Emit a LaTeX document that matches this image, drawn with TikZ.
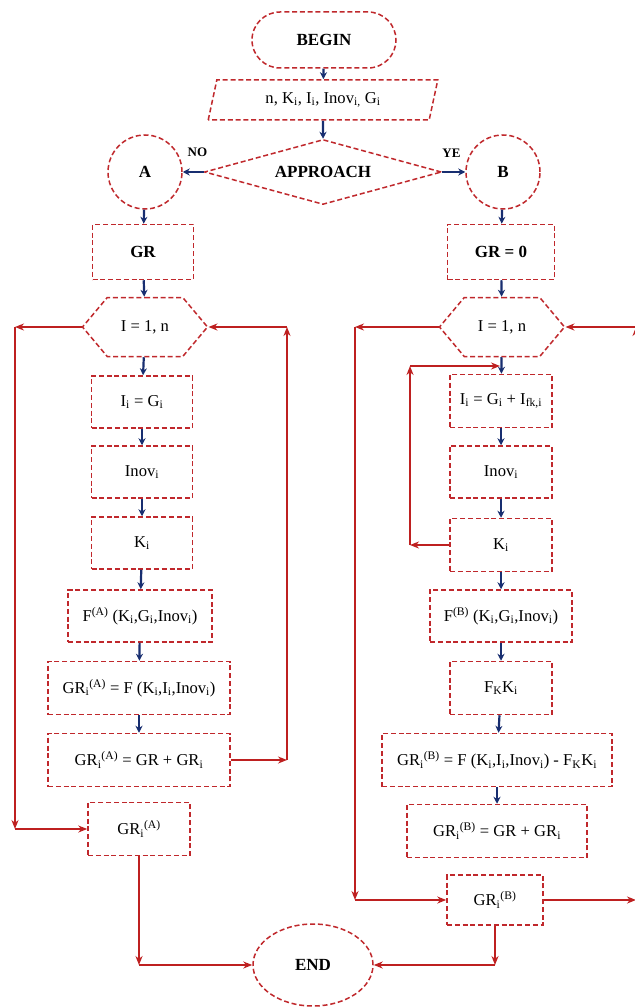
\documentclass[tikz,border=0pt]{standalone}
\usepackage{fontspec}
\setmainfont{Liberation Serif}
\usetikzlibrary{positioning,arrows.meta,shapes.geometric,shapes.misc,shapes.symbols}
\definecolor{boxred}{RGB}{192,40,44}
\definecolor{linkred}{RGB}{190,32,32}
\definecolor{navy}{RGB}{24,46,112}
\newcommand{\lo}[1]{\textsubscript{#1}}
\newcommand{\hi}[1]{\textsuperscript{#1}}
\tikzset{
  base/.style={draw=boxred, line width=1.5pt, dash pattern=on 5pt off 2.8pt,
    fill=white, font=\fontsize{16.6}{19}\selectfont, align=center, inner sep=2pt},
  proc/.style={base, rectangle, minimum width=101pt, minimum height=52pt},
  bigtext/.style={font=\fontsize{17}{20}\selectfont\bfseries},
  term/.style={base, rounded rectangle, minimum width=148pt, minimum height=56pt, bigtext},
  io/.style={base, trapezium, trapezium left angle=76, trapezium right angle=104,
    trapezium stretches=true, minimum width=230pt, minimum height=40pt},
  test/.style={base, diamond, aspect=3.65, minimum width=237pt, minimum height=65pt,
    inner sep=0pt, bigtext},
  conn/.style={base, circle, minimum size=74pt, bigtext},
  loophex/.style={base, signal, signal to=west and east, signal pointer angle=100,
    minimum width=125pt, minimum height=59pt},
  stop/.style={base, ellipse, minimum width=120pt, minimum height=82pt, bigtext},
  flow/.style={-{Stealth[length=7pt,width=7pt]}, navy, line width=2.2pt},
  back/.style={-{Stealth[length=9pt,width=7pt]}, linkred, line width=1.5pt},
  tag/.style={text=black, font=\fontsize{13}{15}\selectfont\bfseries},
}

\begin{document}
\begin{tikzpicture}[x=1pt, y=-1pt]
  \path[use as bounding box, fill=white] (0,0) rectangle (634,1008);
  % start and choice
  \node[term] (begin) at (324,40) {BEGIN};
  \node[io] (input) at (323,100) {n, K\lo{i}, I\lo{i}, Inov\lo{i,} G\lo{i}};
  \node[test] (appr) at (323,172) {APPROACH};
  \node[conn] (a) at (145,172) {A};
  \node[conn] (b) at (503,172) {B};
  \node[proc, minimum height=55pt, bigtext] (grA) at (143,252) {GR};
  \node[proc, minimum width=107pt, minimum height=55pt, bigtext] (grB) at (501,252) {GR = 0};
  \node[loophex] (hexA) at (145,327) {I = 1, n};
  \node[loophex] (hexB) at (502,327) {I = 1, n};
  % branch A
  \node[proc] (iA) at (142,402) {I\lo{i} = G\lo{i}};
  \node[proc] (inovA) at (142,472) {Inov\lo{i}};
  \node[proc] (kA) at (142,543) {K\lo{i}};
  \node[proc, minimum width=144pt] (fA) at (140,616) {F\hi{(A)} (K\lo{i},G\lo{i},Inov\lo{i})};
  \node[proc, minimum width=182pt, minimum height=53pt] (gA1) at (139,688) {GR\lo{i}\hi{(A)} = F (K\lo{i},I\lo{i},Inov\lo{i})};
  \node[proc, minimum width=182pt, minimum height=53pt] (gA2) at (139,760) {GR\lo{i}\hi{(A)} = GR + GR\lo{i}};
  \node[proc, minimum width=102pt, minimum height=53pt] (gA3) at (139,829) {GR\lo{i}\hi{(A)}};
  % branch B
  \node[proc, minimum width=102pt, minimum height=53pt] (iB) at (501,401) {I\lo{i} = G\lo{i} + I\lo{fk,i}};
  \node[proc, minimum width=102pt] (inovB) at (501,472) {Inov\lo{i}};
  \node[proc, minimum width=102pt, minimum height=53pt] (kB) at (501,545) {K\lo{i}};
  \node[proc, minimum width=142pt] (fB) at (501,616) {F\hi{(B)} (K\lo{i},G\lo{i},Inov\lo{i})};
  \node[proc, minimum width=102pt, minimum height=53pt] (fkB) at (501,688) {F\lo{K}K\lo{i}};
  \node[proc, minimum width=230pt, minimum height=53pt] (gB1) at (497,760) {GR\lo{i}\hi{(B)} = F (K\lo{i},I\lo{i},Inov\lo{i}) - F\lo{K}K\lo{i}};
  \node[proc, minimum width=180pt, minimum height=53pt] (gB2) at (497,831) {GR\lo{i}\hi{(B)} = GR + GR\lo{i}};
  \node[proc, minimum width=96pt, minimum height=50pt] (gB3) at (495,900) {GR\lo{i}\hi{(B)}};
  \node[stop] (end) at (313,965) {END};
  % corners of the loops
  \coordinate (la1) at (hexA.west -| 15,0);
  \coordinate (la2) at (gA3.west -| 15,0);
  \coordinate (ra1) at (gA2.east -| 287,0);
  \coordinate (ra2) at (hexA.east -| 287,0);
  \coordinate (la3) at (gA3.south |- end.west);
  \coordinate (lb1) at (hexB.west -| 355,0);
  \coordinate (lb2) at (gB3.west -| 355,0);
  \coordinate (rb1) at (gB3.east -| 636,0);
  \coordinate (rb2) at (hexB.east -| 636,0);
  \coordinate (ib1) at (kB.west -| 410,0);
  \coordinate (ib2) at (410,366);
  \coordinate (ib3) at (500,366);
  \coordinate (rb3) at (gB3.south |- end.east);
  % main flow
  \draw[flow] (begin) -- (input);
  \draw[flow] (input) -- (appr);
  \draw[flow] (appr.west) -- node[tag, above=11pt, pos=0.3]{NO} (a.east);
  \draw[flow] (appr.east) -- node[tag, above=10pt, pos=0.4]{YE} (b.west);
  \draw[flow] (a) -- (grA);
  \draw[flow] (grA) -- (hexA);
  \draw[flow] (hexA) -- (iA);
  \draw[flow] (iA) -- (inovA);
  \draw[flow] (inovA) -- (kA);
  \draw[flow] (kA) -- (fA);
  \draw[flow] (fA) -- (gA1);
  \draw[flow] (gA1) -- (gA2);
  \draw[flow] (b) -- (grB);
  \draw[flow] (grB) -- (hexB);
  \draw[flow] (hexB) -- (iB);
  \draw[flow] (iB) -- (inovB);
  \draw[flow] (inovB) -- (kB);
  \draw[flow] (kB) -- (fB);
  \draw[flow] (fB) -- (fkB);
  \draw[flow] (fkB) -- (gB1);
  \draw[flow] (gB1) -- (gB2);
  % loops of branch A
  \draw[back] (hexA.west) -- (la1);
  \draw[back] (la1) -- (la2);
  \draw[back] (la2) -- (gA3.west);
  \draw[back] (gA2.east) -- (ra1);
  \draw[back] (ra1) -- (ra2);
  \draw[back] (ra2) -- (hexA.east);
  \draw[back] (gA3.south) -- (la3);
  \draw[back] (la3) -- (end.west);
  % loops of branch B
  \draw[back] (kB.west) -- (ib1);
  \draw[back] (ib1) -- (ib2);
  \draw[back] (ib2) -- (ib3);
  \draw[back] (hexB.west) -- (lb1);
  \draw[back] (lb1) -- (lb2);
  \draw[back] (lb2) -- (gB3.west);
  \draw[back] (gB3.east) -- (rb1);
  \draw[back] (rb1) -- (rb2);
  \draw[back] (rb2) -- (hexB.east);
  \draw[back] (gB3.south) -- (rb3);
  \draw[back] (rb3) -- (end.east);
\end{tikzpicture}
\end{document}
